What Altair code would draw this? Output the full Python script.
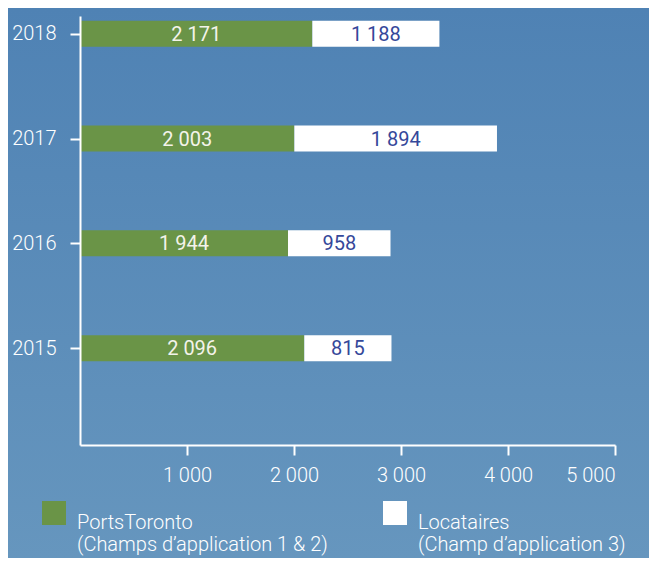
import altair as alt
import pandas as pd

years = [2018, 2017, 2016, 2015]
ports = [2171, 2003, 1944, 2096]
locataires = [1188, 1894, 958, 815]
series = ["PortsToronto", "Locataires"]
bar_colors = ["#6a9447", "#ffffff"]
x_ticks = [1000, 2000, 3000, 4000, 5000]

rows = []
for y, p, l in zip(years, ports, locataires):
    rows.append(dict(year=y, series="PortsToronto", value=p, order=0))
    rows.append(dict(year=y, series="Locataires", value=l, order=1))
df = pd.DataFrame(rows)
df["label"] = df["value"].map(lambda v: f"{v:,}".replace(",", " "))

FONT = "Roboto"
WEIGHT = 300

base = alt.Chart(df).transform_stack(
    stack="value", groupby=["year"], as_=["x0", "x1"],
    sort=[alt.SortField("order", order="ascending")]
).transform_calculate(mid="(datum.x0 + datum.x1) / 2")

x_scale = alt.Scale(domain=[0, 5000], nice=False, zero=True)
y_scale = alt.Scale(domain=[2014.124, 2018.121], nice=False, zero=False)

bars = base.mark_bar(orient="horizontal", size=26).encode(
    x=alt.X("x0:Q", scale=x_scale, title=None,
            axis=alt.Axis(values=x_ticks, tickSize=10, labelPadding=10, labelFontSize=20,
                          zindex=2,
                          labelExpr="replace(format(datum.value, ','), ',', ' ')")),
    x2="x1:Q",
    y=alt.Y("year:Q", scale=y_scale, title=None,
            axis=alt.Axis(values=years, format="d", tickSize=10, labelPadding=14,
                          labelFontSize=20, zindex=2)),
    color=alt.Color("series:N", scale=alt.Scale(domain=series, range=bar_colors),
                    legend=alt.Legend(
                        title=None, orient="none", legendX=-38, legendY=485,
                        direction="horizontal", symbolType="square", symbolSize=576,
                        symbolStrokeWidth=0, symbolOpacity=1, labelFontSize=20,
                        labelFontWeight=WEIGHT,
                        labelColor="white", labelFont=FONT, labelOffset=11,
                        columnPadding=55, labelLimit=400, labelBaseline="top",
                        zindex=2,
                        labelExpr="datum.label == 'PortsToronto' ? ['PortsToronto', '(Champs d’application 1 & 2)'] : ['Locataires', '(Champ d’application 3)']")),
)

text = base.mark_text(font=FONT, fontSize=20, fontWeight=400, baseline="middle", dy=1).encode(
    x=alt.X("mid:Q", scale=x_scale),
    y=alt.Y("year:Q", scale=y_scale),
    text="label:N",
    color=alt.condition("datum.series == 'PortsToronto'", alt.value("#f3f3ea"), alt.value("#35489a")),
)

gradient = alt.LinearGradient(
    gradient="linear",
    stops=[alt.GradientStop(color="#4f82b4", offset=0),
           alt.GradientStop(color="#6696be", offset=1)],
    x1=0, x2=0, y1=0, y2=1,
)
bg = alt.Chart(alt.Data(values=[{"a": 1}])).mark_rect(fill=gradient).encode(
    x=alt.value(-72), x2=alt.value(569), y=alt.value(-8), y2=alt.value(542)
)

chart = alt.layer(bg, bars, text).properties(
    width=535, height=429,
    autosize=alt.AutoSizeParams(type="none"),
    padding={"left": 72, "top": 8, "right": 34, "bottom": 113},
    background="#5a8ab8",
).configure_view(stroke=None).configure_axis(
    domainColor="white", domainWidth=2, tickColor="white", tickWidth=2,
    grid=False, labelColor="white", labelFont=FONT, labelFontWeight=WEIGHT,
)

chart.save("out.html", embed_options={"renderer": "svg", "actions": False})
